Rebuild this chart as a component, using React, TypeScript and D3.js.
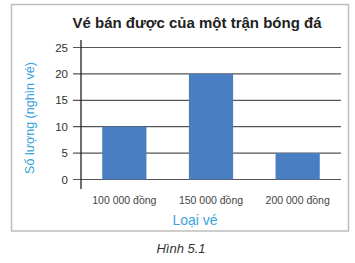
import React from "react";
import * as d3 from "d3";

const categories = ["100 000 đồng", "150 000 đồng", "200 000 đồng"];
const values = [10, 20, 5];
const yTicks = [0, 5, 10, 15, 20, 25];
const title = "Vé bán được của một trận bóng đá";
const xTitle = "Loại vé";
const yTitle = "Số lượng (nghìn vé)";
const caption = "Hình 5.1";

export default function App() {
  const W = 355, H = 263;
  const x0 = 81, x1 = 341;
  const y = d3.scaleLinear().domain([0, 25]).range([179.5, 47.5]);
  const x = d3.scaleBand<string>().domain(categories).range([x0, x1]).paddingInner(0.49).paddingOuter(0.245);
  const font = "Liberation Sans, Arial, sans-serif";
  return (
    <svg width={W} height={H} style={{ position: "absolute", left: 0, top: 0 }} fontFamily={font}>
      <rect x={0} y={0} width={W} height={H} fill="#fff" />
      <rect x={11.5} y={4.5} width={337} height={226.5} fill="#fff" stroke="#bdbdbd" strokeWidth={1.5} />
      <text x={197} y={28} textAnchor="middle" fontSize={15} fontWeight="bold" fill="#222">{title}</text>
      {yTicks.map((t) => (
        <g key={t}>
          <line x1={73} x2={x1} y1={y(t)} y2={y(t)} stroke="#555" strokeWidth={1.2} />
          <text x={68} y={y(t)} dy="0.36em" textAnchor="end" fontSize={11.5} fill="#333">{t}</text>
        </g>
      ))}
      {categories.map((c, i) => (
        <rect key={c} x={x(c)} y={y(values[i])} width={x.bandwidth()} height={y(0) - y(values[i])} fill="#4a7ec2" />
      ))}
      <line x1={x0} x2={x0} y1={40} y2={189} stroke="#222" strokeWidth={1.3} />
      {categories.map((c) => (
        <text key={c} x={(x(c) ?? 0) + x.bandwidth() / 2} y={204} textAnchor="middle" fontSize={10.5} fill="#444">{c}</text>
      ))}
      <text x={195} y={225} textAnchor="middle" fontSize={14} fill="#3aa3dd">{xTitle}</text>
      <text transform={`translate(34,118) rotate(-90)`} textAnchor="middle" fontSize={12.5} fill="#3aa3dd">{yTitle}</text>
      <text x={181} y={253} textAnchor="middle" fontSize={13} fontStyle="italic" fill="#333">{caption}</text>
    </svg>
  );
}
